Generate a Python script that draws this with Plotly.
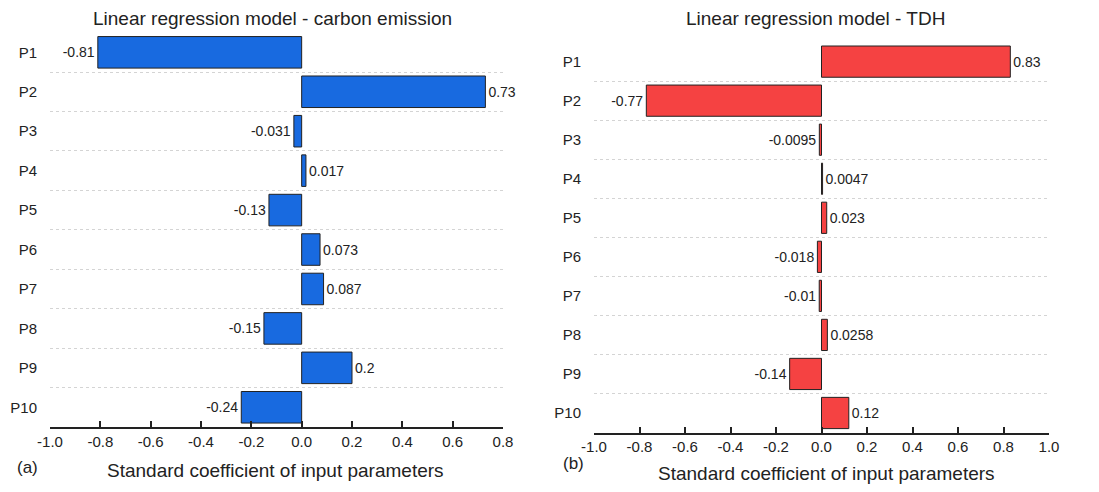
import plotly.graph_objects as go

params = ["P1", "P2", "P3", "P4", "P5", "P6", "P7", "P8", "P9", "P10"]
carbon = [-0.81, 0.73, -0.031, 0.017, -0.13, 0.073, 0.087, -0.15, 0.2, -0.24]
tdh = [0.83, -0.77, -0.0095, 0.0047, 0.023, -0.018, -0.01, 0.0258, -0.14, 0.12]
carbon_labels = [str(v) for v in carbon]
tdh_labels = [str(v) for v in tdh]
x1_ticks = [-1.0, -0.8, -0.6, -0.4, -0.2, 0.0, 0.2, 0.4, 0.6, 0.8]
x2_ticks = [-1.0, -0.8, -0.6, -0.4, -0.2, 0.0, 0.2, 0.4, 0.6, 0.8, 1.0]

W, H = 1099, 492
FONT = "Liberation Sans, Arial, sans-serif"
BLUE = "rgb(24,106,224)"
RED = "rgb(245,66,66)"

fig = go.Figure()
fig.add_trace(go.Bar(
    x=carbon, y=params, orientation="h", xaxis="x", yaxis="y",
    marker=dict(color=BLUE, line=dict(color="#222", width=1)),
    text=carbon_labels, textposition="outside", cliponaxis=False,
    textfont=dict(size=14, color="#222", family=FONT), width=0.8,
))
fig.add_trace(go.Bar(
    x=tdh, y=params, orientation="h", xaxis="x2", yaxis="y2",
    marker=dict(color=RED, line=dict(color="#222", width=1)),
    text=tdh_labels, textposition="outside", cliponaxis=False,
    textfont=dict(size=14, color="#222", family=FONT), width=0.8,
))

def px_x(p):
    return p / W

def px_y(p):
    return 1 - p / H

xcommon = dict(
    showline=True, linecolor="#222", linewidth=1.5, ticks="inside", ticklen=6,
    tickcolor="#222", tickwidth=1.5, showgrid=False, zeroline=False,
    tickfont=dict(size=15, color="#222", family=FONT),
    fixedrange=True, automargin=False,
)
ycommon = dict(
    type="category", categoryorder="array", categoryarray=params,
    tickson="boundaries", ticks="", showgrid=True, gridcolor="#d4d4d4",
    griddash="dot", gridwidth=1, showline=False, zeroline=False,
    tickfont=dict(size=15, color="#222", family=FONT), ticklabelstandoff=12,
    range=[9.5, -0.49], automargin=False, fixedrange=True,
)

fig.update_layout(
    width=W, height=H, margin=dict(l=0, r=0, t=0, b=0, autoexpand=False),
    paper_bgcolor="white", plot_bgcolor="white", showlegend=False,
    bargap=0.2,
    font=dict(family=FONT, color="#222"),
    xaxis=dict(domain=[px_x(50), px_x(503)], range=[-1.0, 0.8], anchor="y",
               tickvals=x1_ticks, ticktext=[f"{t:.1f}" for t in x1_ticks], **xcommon),
    yaxis=dict(domain=[px_y(427), px_y(33)], anchor="x", **ycommon),
    xaxis2=dict(domain=[px_x(594), px_x(1049)], range=[-1.0, 1.0], anchor="y2",
                tickvals=x2_ticks, ticktext=[f"{t:.1f}" for t in x2_ticks], **xcommon),
    yaxis2=dict(domain=[px_y(432.5), px_y(42.5)], anchor="x2", **ycommon),
)

ann = [
    dict(text="Linear regression model - carbon emission", x=px_x(272), y=px_y(19), size=19),
    dict(text="Linear regression model - TDH", x=px_x(815), y=px_y(18), size=19),
    dict(text="Standard coefficient of input parameters", x=px_x(275), y=px_y(470), size=19),
    dict(text="Standard coefficient of input parameters", x=px_x(826), y=px_y(473), size=19),
    dict(text="(a)", x=px_x(27), y=px_y(467), size=17),
    dict(text="(b)", x=px_x(573), y=px_y(463), size=17),
]
for a in ann:
    fig.add_annotation(text=a["text"], x=a["x"], y=a["y"], xref="paper", yref="paper",
                       xanchor="center", yanchor="middle", showarrow=False,
                       font=dict(size=a["size"], color="#222", family=FONT))

fig.write_html("out.html")
